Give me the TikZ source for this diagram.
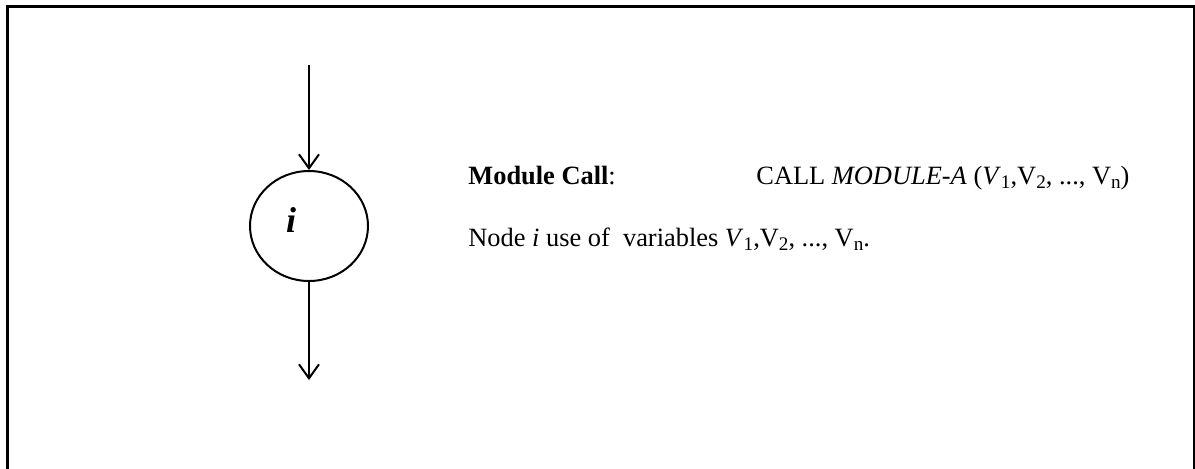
\documentclass[tikz,border=0pt]{standalone}
\usepackage{fontspec}
\setmainfont{Liberation Serif}
\usepackage{tikz}
\usetikzlibrary{arrows.meta,shapes.geometric}

\newcommand{\sbs}[1]{\raisebox{-0.35ex}{\fontsize{9.6}{10}\selectfont #1}}

\tikzset{
	flow/.style = {line width=1pt, -{Straight Barb[length=7pt,width=10pt,line width=1pt]}},
	txt/.style = {anchor=base west, inner sep=0pt, font=\fontsize{13.2}{15}\selectfont}
}

\begin{document}
\begin{tikzpicture}[x=0.5pt, y=-0.5pt]
				\useasboundingbox (0,0) rectangle (1195,468);
				%\draw [help lines, step=50] (0,0) grid (1195,468);
				\draw [line width=1.5pt] (7,470) -- (7,6) -- (1194,6) -- (1194,470);
				\node (n) [draw, line width=1pt, ellipse, minimum width=59pt, minimum height=55pt, inner sep=0pt] at (309,226) {};
				\node (lbl) at (291,220) {\fontsize{18}{20}\selectfont\textbf{\textit{i}}};
				\coordinate (in) at (309,65);
				\coordinate (out) at (309,380);
				\draw [flow] (in) -- (n.north);
				\draw [flow] (n.south) -- (out);
				\node (mc) [txt] at (468,184) {\textbf{Module Call}:};
				\node (call) [txt] at (756,184) {CALL \textit{MODULE-A} (\textit{V}\sbs{1},V\sbs{2}, ..., V\sbs{n})};
				\node (use) [txt] at (468,246) {Node \textit{i} use of~\ variables \textit{V}\sbs{1},V\sbs{2}, ..., V\sbs{n}.};
		\end{tikzpicture}
\end{document}
